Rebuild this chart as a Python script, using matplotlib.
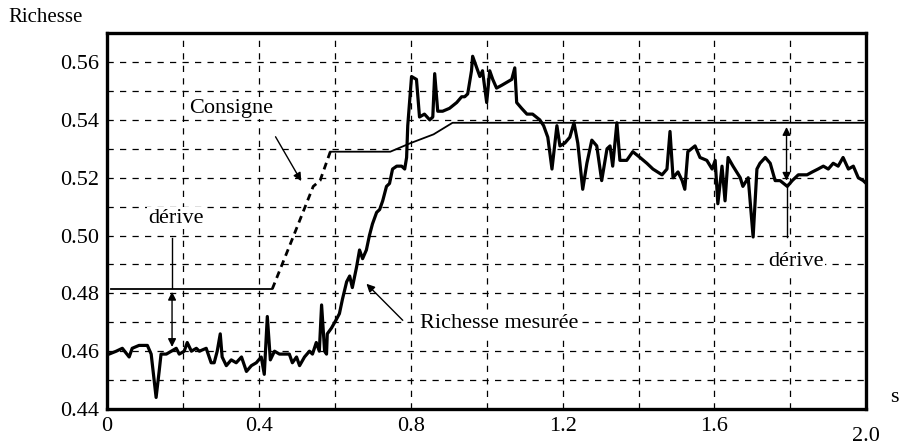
import matplotlib.pyplot as plt
import matplotlib.transforms as mtransforms
import numpy as np

# --- Data ---
# Consigne de richesse
consigne_t = [0.01, 0.435, 0.49, 0.543, 0.561, 0.588, 0.746, 0.80, 0.86, 0.91, 2.0]
consigne_r = [0.4815, 0.4815, 0.4995, 0.517, 0.519, 0.529, 0.529, 0.532, 0.535, 0.539, 0.539]
# partie en pointilles (rampe)
rampe_t = [0.435, 0.49, 0.543, 0.561, 0.588]
rampe_r = [0.4815, 0.4995, 0.517, 0.519, 0.529]

# Richesse mesuree
mesure_t = [0.005, 0.024, 0.040, 0.058, 0.066, 0.084, 0.106, 0.116, 0.129, 0.137,
            0.142, 0.156, 0.169, 0.182, 0.190, 0.203, 0.211, 0.222, 0.235, 0.243,
            0.261, 0.274, 0.282, 0.290, 0.298, 0.303, 0.314, 0.327, 0.340, 0.354,
            0.367, 0.380, 0.393, 0.406, 0.414, 0.422, 0.430, 0.441, 0.454, 0.480,
            0.488, 0.499, 0.507, 0.520, 0.533, 0.541, 0.551, 0.559, 0.565, 0.573,
            0.578, 0.580, 0.591, 0.604, 0.612, 0.620, 0.631, 0.639, 0.646, 0.657,
            0.665, 0.673, 0.683, 0.691, 0.699, 0.710, 0.718, 0.726, 0.736, 0.744,
            0.752, 0.763, 0.776, 0.784, 0.789, 0.792, 0.802, 0.815, 0.823, 0.836,
            0.850, 0.858, 0.863, 0.871, 0.884, 0.902, 0.921, 0.934, 0.942, 0.950,
            0.960, 0.963, 0.974, 0.982, 0.989, 1.000, 1.008, 1.016, 1.026, 1.040,
            1.053, 1.066, 1.074, 1.079, 1.092, 1.106, 1.121, 1.140, 1.150, 1.161,
            1.172, 1.185, 1.193, 1.206, 1.219, 1.230, 1.240, 1.253, 1.264, 1.277,
            1.290, 1.303, 1.317, 1.325, 1.332, 1.343, 1.351, 1.369, 1.385, 1.404,
            1.422, 1.438, 1.462, 1.475, 1.483, 1.491, 1.504, 1.515, 1.522, 1.530,
            1.549, 1.562, 1.580, 1.594, 1.602, 1.609, 1.620, 1.628, 1.636, 1.649,
            1.668, 1.675, 1.689, 1.702, 1.712, 1.720, 1.734, 1.747, 1.760, 1.773,
            1.792, 1.805, 1.821, 1.844, 1.858, 1.873, 1.887, 1.900, 1.913, 1.926,
            1.939, 1.953, 1.966, 1.979, 1.992, 2.000]
mesure_r = [0.459, 0.460, 0.461, 0.458, 0.461, 0.462, 0.462, 0.459, 0.444, 0.453,
            0.459, 0.459, 0.460, 0.461, 0.459, 0.460, 0.463, 0.460, 0.461, 0.460,
            0.461, 0.456, 0.456, 0.460, 0.466, 0.458, 0.455, 0.457, 0.456, 0.458,
            0.453, 0.455, 0.456, 0.458, 0.452, 0.472, 0.457, 0.460, 0.459, 0.459,
            0.456, 0.458, 0.455, 0.458, 0.460, 0.459, 0.463, 0.460, 0.476, 0.460,
            0.459, 0.466, 0.468, 0.471, 0.473, 0.478, 0.484, 0.486, 0.482, 0.489,
            0.495, 0.492, 0.495, 0.500, 0.504, 0.508, 0.509, 0.512, 0.517, 0.518,
            0.523, 0.524, 0.524, 0.523, 0.527, 0.538, 0.555, 0.554, 0.541, 0.542,
            0.540, 0.541, 0.556, 0.543, 0.543, 0.544, 0.546, 0.548, 0.548, 0.549,
            0.557, 0.562, 0.558, 0.555, 0.557, 0.546, 0.557, 0.554, 0.551, 0.552,
            0.553, 0.554, 0.558, 0.546, 0.544, 0.542, 0.542, 0.540, 0.538, 0.534,
            0.523, 0.538, 0.531, 0.532, 0.534, 0.539, 0.532, 0.516, 0.525, 0.533,
            0.531, 0.519, 0.530, 0.531, 0.524, 0.539, 0.526, 0.526, 0.529, 0.527,
            0.525, 0.523, 0.521, 0.523, 0.536, 0.520, 0.522, 0.519, 0.516, 0.529,
            0.531, 0.527, 0.526, 0.523, 0.526, 0.511, 0.524, 0.512, 0.527, 0.524,
            0.520, 0.517, 0.520, 0.4995, 0.523, 0.525, 0.527, 0.525, 0.519, 0.519,
            0.517, 0.519, 0.521, 0.521, 0.522, 0.523, 0.524, 0.523, 0.525, 0.524,
            0.527, 0.523, 0.524, 0.520, 0.519, 0.518]

xticks = [0, 0.4, 0.8, 1.2, 1.6, 2.0]
xtick_labels = ["0", "0.4", "0.8", "1.2", "1.6", "2.0"]
yticks = [0.44, 0.46, 0.48, 0.50, 0.52, 0.54, 0.56]
ytick_labels = ["0.44", "0.46", "0.48", "0.50", "0.52", "0.54", "0.56"]

plt.rcParams['font.family'] = ['Liberation Serif', 'DejaVu Serif']

fig = plt.figure(figsize=(9.08, 4.48), dpi=100)
ax = fig.add_axes([0.118, 0.087, 0.836, 0.839])

# grille en tirets
for gx in np.arange(0.2, 2.0, 0.2):
    ax.axvline(gx, color='black', lw=0.9, ls=(0, (5, 5)), zorder=1)
for gy in np.arange(0.45, 0.57, 0.01):
    ax.axhline(gy, color='black', lw=0.9, ls=(0, (5, 5)), zorder=1)

# consigne : traits pleins + rampe en pointilles
ax.plot(consigne_t[:2], consigne_r[:2], color='black', lw=1.3, zorder=3)
ax.plot(consigne_t[5:], consigne_r[5:], color='black', lw=1.3, zorder=3)
ax.plot(rampe_t, rampe_r, color='black', lw=2.0, ls=(0, (2.5, 1.8)), zorder=3)

# richesse mesuree
ax.plot(mesure_t, mesure_r, color='black', lw=2.3, zorder=4)

ax.set_xlim(0, 2.0)
ax.set_ylim(0.44, 0.57)
ax.set_xticks(xticks)
ax.set_xticklabels(xtick_labels)
ax.set_yticks(yticks)
ax.set_yticklabels(ytick_labels)
ax.tick_params(length=0, labelsize=16, pad=6)
for sp in ax.spines.values():
    sp.set_linewidth(2.4)

# le label 2.0 est un peu plus bas
lab = ax.get_xticklabels()[-1]
lab.set_transform(lab.get_transform() + mtransforms.ScaledTranslation(0, -0.1, fig.dpi_scale_trans))

fig.text(0.009, 0.96, "Richesse", fontsize=15, ha='left', va='center')
fig.text(0.99, 0.113, "s", fontsize=16, ha='right', va='center')

# annotations
white = dict(facecolor='white', edgecolor='none', pad=1.0)
arrow = dict(arrowstyle='-|>', color='black', lw=1.0, mutation_scale=12)
ax.text(0.327, 0.544, "Consigne", fontsize=16, ha='center', va='center', bbox=white, zorder=5)
ax.annotate("", xy=(0.515, 0.518), xytext=(0.44, 0.535), arrowprops=arrow)
ax.annotate("", xy=(0.678, 0.484), xytext=(0.784, 0.470), arrowprops=arrow)
ax.text(0.823, 0.4695, "Richesse mesurée", fontsize=16, ha='left', va='center', bbox=white, zorder=5)

# derive a gauche
ax.text(0.182, 0.506, "dérive", fontsize=16, ha='center', va='center', bbox=white, zorder=5)
ax.plot([0.171, 0.171], [0.499, 0.482], color='black', lw=1.0)
ax.annotate("", xy=(0.171, 0.4815), xytext=(0.171, 0.4605),
            arrowprops=dict(arrowstyle='<|-|>', color='black', lw=1.0, mutation_scale=12))

# derive a droite
ax.text(1.815, 0.491, "dérive", fontsize=16, ha='center', va='center', bbox=white, zorder=5)
ax.plot([1.79, 1.79], [0.518, 0.4995], color='black', lw=1.0)
ax.annotate("", xy=(1.79, 0.5385), xytext=(1.79, 0.518),
            arrowprops=dict(arrowstyle='<|-|>', color='black', lw=1.0, mutation_scale=12))

fig.savefig("out.png", dpi=100)
